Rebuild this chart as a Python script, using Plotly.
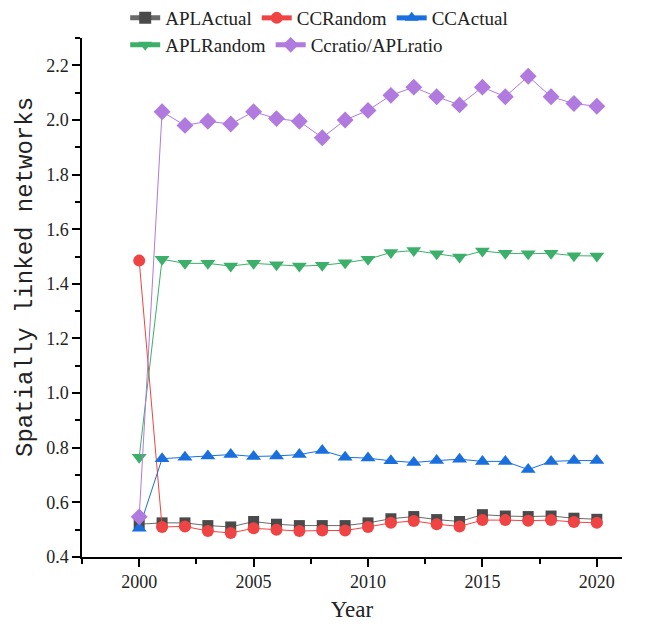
import plotly.graph_objects as go

years = list(range(2000, 2021))
apl_actual = [0.52, 0.525, 0.525, 0.515, 0.51, 0.53, 0.52, 0.515, 0.515, 0.515, 0.525,
              0.54, 0.548, 0.537, 0.53, 0.555, 0.55, 0.548, 0.55, 0.542, 0.538]
cc_random = [1.485, 0.51, 0.512, 0.495, 0.488, 0.505, 0.5, 0.495, 0.497, 0.497, 0.51,
             0.525, 0.532, 0.52, 0.512, 0.535, 0.535, 0.533, 0.535, 0.528, 0.525]
cc_actual = [0.505, 0.76, 0.765, 0.77, 0.775, 0.768, 0.77, 0.775, 0.79, 0.765, 0.762,
             0.752, 0.746, 0.753, 0.758, 0.75, 0.75, 0.72, 0.75, 0.753, 0.753]
apl_random = [0.765, 1.49, 1.475, 1.475, 1.465, 1.475, 1.47, 1.465, 1.468, 1.477, 1.49,
              1.515, 1.522, 1.51, 1.498, 1.52, 1.512, 1.51, 1.512, 1.503, 1.502]
ratio = [0.547, 2.03, 1.98, 1.995, 1.985, 2.03, 2.005, 1.995, 1.935, 2.0, 2.035,
         2.09, 2.12, 2.085, 2.055, 2.12, 2.085, 2.16, 2.085, 2.06, 2.05]

series = [
    ("APLActual", apl_actual, "#4a4a4a", "#6a6a6a", "square", 11, "legend"),
    ("CCRandom", cc_random, "#f04343", "#f04343", "circle", 12, "legend"),
    ("CCActual", cc_actual, "#1a6fde", "#1a6fde", "triangle-up", 13, "legend"),
    ("APLRandom", apl_random, "#3cb06a", "#3cb06a", "triangle-down", 13, "legend2"),
    ("Ccratio/APLratio", ratio, "#b07ade", "#b07ade", "diamond", 13, "legend2"),
]

fig = go.Figure()
for name, vals, mcol, lcol, sym, sz, leg in series:
    fig.add_trace(go.Scatter(
        x=years, y=vals, name=name, mode="lines+markers", legend=leg,
        line=dict(color=lcol, width=1),
        marker=dict(symbol=sym, size=sz, color=mcol, line=dict(width=0)),
    ))

serif = "Liberation Serif, DejaVu Serif, serif"
mono = "Liberation Mono, DejaVu Sans Mono, monospace"
leg_common = dict(
    orientation="h", xanchor="left", yanchor="middle",
    font=dict(family=serif, size=19, color="#222"), bgcolor="rgba(0,0,0,0)",
    tracegroupgap=0, itemsizing="constant",
)
fig.update_layout(
    width=648, height=631,
    margin=dict(l=82, r=26, t=38, b=74, autoexpand=False),
    plot_bgcolor="white", paper_bgcolor="white",
    font=dict(family=serif, size=18, color="#222"),
    showlegend=True,
    legend=dict(x=0.08, y=1.0385, **leg_common),
    legend2=dict(x=0.08, y=0.9865, **leg_common),
    xaxis=dict(
        range=[1997.5, 2021.1], showgrid=False, zeroline=False,
        showline=True, linecolor="black", linewidth=1.5,
        ticks="outside", ticklen=8, tickwidth=1.5, tickcolor="black",
        tick0=2000, dtick=5, tickfont=dict(family=serif, size=18),
        minor=dict(ticks="outside", ticklen=5, tickwidth=1.5, tickcolor="black", dtick=2.5, tick0=2000),
        title=dict(text="Year", font=dict(family=serif, size=23), standoff=10),
    ),
    yaxis=dict(
        range=[0.4, 2.3], showgrid=False, zeroline=False,
        showline=True, linecolor="black", linewidth=1.5,
        ticks="outside", ticklen=8, tickwidth=1.5, tickcolor="black",
        tick0=0.4, dtick=0.2, tickformat=".1f", tickfont=dict(family=serif, size=18),
        minor=dict(ticks="outside", ticklen=5, tickwidth=1.5, tickcolor="black", dtick=0.1, tick0=0.4),
    ),
    annotations=[dict(
        text="Spatially linked networks", textangle=-90,
        xref="paper", yref="paper", x=-82 / 540 + 25 / 540, y=(557 - 277) / 519,
        xanchor="center", yanchor="middle", showarrow=False,
        font=dict(family=mono, size=24, color="#222"),
    )],
)

fig.write_html("out.html")
